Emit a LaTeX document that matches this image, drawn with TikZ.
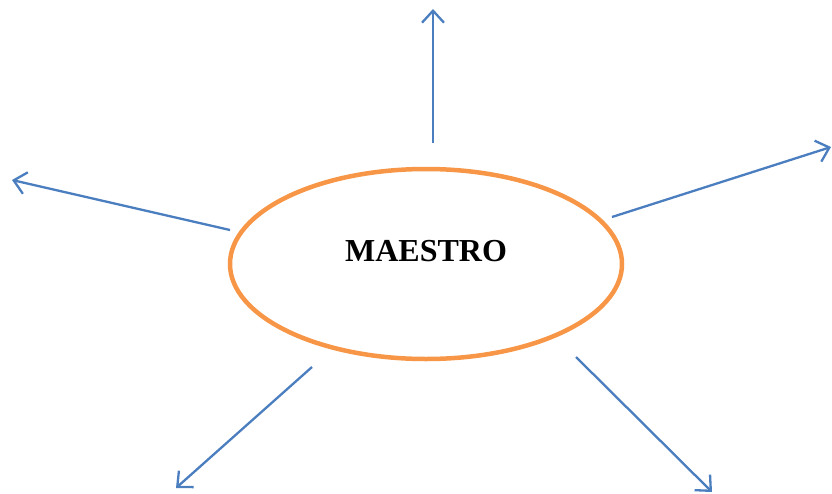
\documentclass[tikz,border=0pt]{standalone}
\usepackage{fontspec}
\setmainfont{Liberation Serif}
\usetikzlibrary{arrows.meta,shapes.geometric}
\definecolor{rayblue}{HTML}{4A7EBF}
\definecolor{rimorange}{HTML}{F79646}
\tikzset{
  hub/.style={ellipse, draw=rimorange, line width=4.5pt, minimum width=392pt,
    minimum height=190pt, inner sep=0pt},
  ray/.style={-{Straight Barb[length=12pt,width=22pt,line width=2.3pt]}, line width=2.3pt, color=rayblue},
}
\begin{document}
\begin{tikzpicture}[x=1pt,y=-1pt]
  \useasboundingbox (0,0) rectangle (832,493);
  % the centre
  \node[hub] (maestro) at (426,264) {};
  \node[font=\bfseries\fontsize{32}{34}\selectfont] (lbl) at (426,251) {MAESTRO};
  % ray ends
  \foreach \n/\sx/\sy/\ex/\ey in {up/433/143/433/9, ru/612/217/831/147,
      lf/230/230/12/180, dl/312/367/176/488, dr/576/357/712/492} {
    \coordinate (s\n) at (\sx,\sy);
    \coordinate (e\n) at (\ex,\ey);
    \draw[ray] (s\n) -- (e\n);
  }
\end{tikzpicture}
\end{document}
